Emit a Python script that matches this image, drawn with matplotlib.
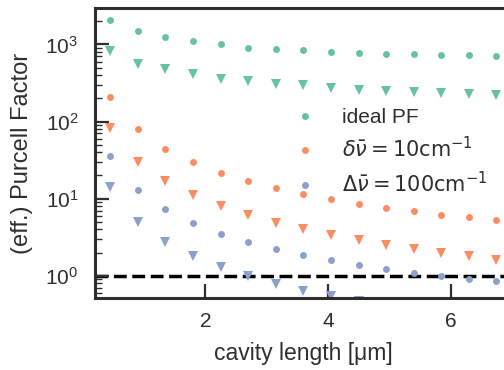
import matplotlib
matplotlib.use('Agg')
import matplotlib.pyplot as plt

# cavity lengths in um
length = [0.45, 0.9, 1.35, 1.8, 2.25, 2.7, 3.15, 3.6, 4.05, 4.5,
          4.95, 5.4, 5.85, 6.3, 6.75]

# Purcell factor (circles) and effective Purcell factor (triangles)
pf_ideal = [2080, 1480, 1240, 1100, 1000, 910, 870, 840, 800, 780,
            760, 745, 735, 720, 715]
pf_ideal_eff = [810, 560, 473, 410, 360, 333, 309, 295, 275, 255,
                247, 243, 235, 225, 222]
pf_10 = [207, 79, 44, 29.5, 21.7, 16.9, 13.8, 11.5, 9.9, 8.5,
         7.55, 6.85, 6.2, 5.77, 5.3]
pf_10_eff = [82, 30, 16.9, 11.1, 7.95, 6.1, 4.86, 4.06, 3.34, 2.9,
             2.5, 2.21, 1.99, 1.78, 1.61]
pf_100 = [36, 13, 7.3, 4.83, 3.5, 2.74, 2.22, 1.84, 1.58, 1.38,
          1.22, 1.09, 0.99, 0.91, 0.85]
pf_100_eff = [14.1, 4.97, 2.74, 1.78, 1.29, 0.98, 0.79, 0.64, 0.545, 0.47]

labels = ['ideal PF',
          r'$\delta\bar{\nu} = 10\mathrm{cm}^{-1}$',
          r'$\Delta\bar{\nu} = 100\mathrm{cm}^{-1}$']
colors = ['#66c2a5', '#fc8d62', '#8da0cb']

dark = '#2e2e2e'
plt.rcParams['font.family'] = ['Liberation Sans', 'DejaVu Sans']
plt.rcParams['font.size'] = 15
plt.rcParams['text.color'] = dark
plt.rcParams['axes.labelcolor'] = dark
plt.rcParams['xtick.color'] = dark
plt.rcParams['ytick.color'] = dark

fig = plt.figure(figsize=(5.04, 3.70), dpi=100)
ax = fig.add_axes([0.1885, 0.1938, 0.827, 0.7838])

for pf, pf_eff, c, lab in zip([pf_ideal, pf_10, pf_100],
                              [pf_ideal_eff, pf_10_eff, pf_100_eff],
                              colors, labels):
    ax.plot(length[:len(pf)], pf, 'o', color=c, ms=5, mew=0, label=lab)
    ax.plot(length[:len(pf_eff)], pf_eff, 'v', color=c, ms=7.5, mew=0)

ax.axhline(1, color='black', ls='--', lw=2.5, zorder=0)

ax.set_yscale('log')
ax.set_xlim(0.2, 7.0)
ax.set_ylim(0.51, 2940)
ax.set_xticks([2, 4, 6])

for side in ['left', 'top', 'bottom']:
    ax.spines[side].set_linewidth(2.2)
    ax.spines[side].set_color(dark)
ax.spines['right'].set_visible(False)

ax.tick_params(which='major', direction='in', length=10, width=1.6,
               pad=10, labelsize=15)
ax.tick_params(which='minor', direction='in', length=5, width=1.0)
ax.tick_params(axis='y', pad=12)

ax.set_xlabel('cavity length [μm]', fontsize=16.5, labelpad=8)
ax.set_ylabel('(eff.) Purcell Factor', fontsize=17, labelpad=9)

ax.legend(loc='center left', bbox_to_anchor=(0.4535, 0.5045), frameon=False,
          borderpad=0, borderaxespad=0, handletextpad=0.8, labelspacing=0.45,
          fontsize=15)

fig.savefig('out.png', dpi=100)
